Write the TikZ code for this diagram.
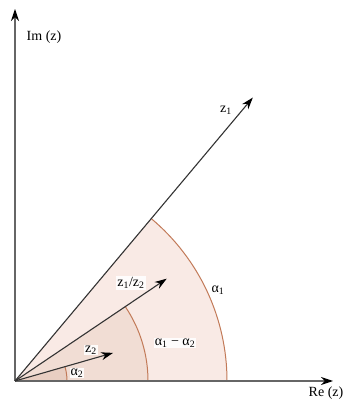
\documentclass[tikz,border=0pt]{standalone}
\usepackage{fontspec}
\setmainfont{Liberation Serif}
\usetikzlibrary{arrows.meta,calc}
\definecolor{secA}{HTML}{F9EAE5}
\definecolor{secB}{HTML}{F1DDD4}
\definecolor{secC}{HTML}{E8CEC2}
\definecolor{arcc}{HTML}{C27A58}
\definecolor{axisc}{HTML}{666666}
\definecolor{vecc}{HTML}{333333}
\begin{document}
\begin{tikzpicture}[x=1pt,y=1pt,
  axis/.style={draw=axisc,line width=1.3pt,-{Stealth[length=12pt,width=8pt,color=black]}},
  vec/.style={draw=vecc,line width=1.1pt,-{Stealth[length=12pt,width=8pt,color=black]}},
  arcline/.style={draw=arcc,line width=1pt},
  lbl/.style={inner sep=1pt,font=\fontsize{14}{16}\selectfont},
  wlbl/.style={lbl,fill=white,fill opacity=0.9,text opacity=1}]
\useasboundingbox (0,0) rectangle (350,403);
\coordinate (O) at (15,22);
% sectors
\fill[secA] (O) -- ++(0:212) arc[start angle=0,end angle=50,radius=212] -- cycle;
\fill[secB] (O) -- ++(0:133) arc[start angle=0,end angle=34,radius=133] -- cycle;
\fill[secC] (O) -- ++(0:52) arc[start angle=0,end angle=16,radius=52] -- cycle;
\draw[arcline] ($(O)+(0:212)$) arc[start angle=0,end angle=50,radius=212];
\draw[arcline] ($(O)+(0:133)$) arc[start angle=0,end angle=34,radius=133];
\draw[arcline] ($(O)+(0:52)$) arc[start angle=0,end angle=16,radius=52];
% axes
\coordinate (xe) at (333,22);
\coordinate (ye) at (15,394);
\draw[axis] (O) -- (xe);
\draw[axis] (O) -- (ye);
% vectors
\coordinate (z1) at ($(O)+(50:370)$);
\coordinate (zq) at ($(O)+(34:183)$);
\coordinate (z2) at ($(O)+(16:102)$);
\draw[vec] (O) -- (z1);
\draw[vec] (O) -- (zq);
\draw[vec] (O) -- (z2);
% labels
\node[lbl] (im) at (44,366) {Im (z)};
\node[lbl] (re) at (326,10) {Re (z)};
\node[lbl] (lz1) at (226,293) {z\textsubscript{1}};
\node[wlbl] (lzq) at (131,120) {z\textsubscript{1}/z\textsubscript{2}};
\node[wlbl] (lz2) at (91,53) {z\textsubscript{2}};
\node[lbl] (la1) at (218,113) {α\textsubscript{1}};
\node[wlbl] (la12) at (175,60) {α\textsubscript{1} − α\textsubscript{2}};
\node[wlbl] (la2) at (77,30) {α\textsubscript{2}};
\end{tikzpicture}
\end{document}
